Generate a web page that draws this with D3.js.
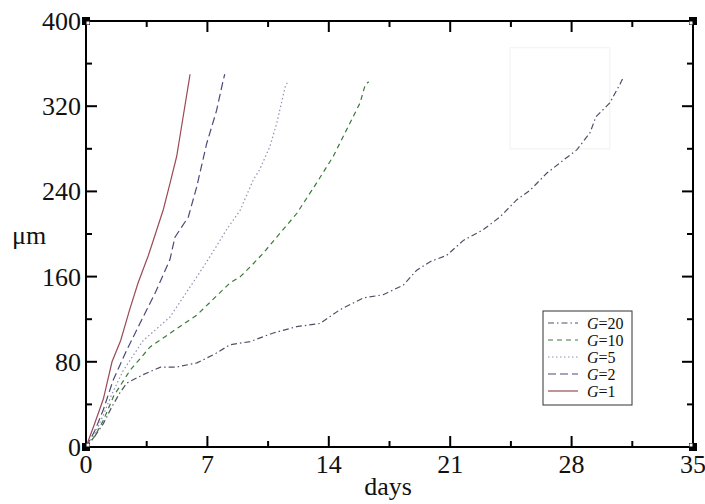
<!DOCTYPE html>
<html>
<head>
<meta charset="utf-8">
<script src="https://cdn.jsdelivr.net/npm/d3@7"></script>
<style>
  body { margin: 0; background: #fff; }
  svg { display: block; font-family: "Liberation Serif", "Times New Roman", serif; }
</style>
</head>
<body>
<svg width="705" height="504"></svg>
<script>
const width = 705;
const height = 504;
const margin = { top: 21, right: 12, bottom: 57, left: 86 };
const innerWidth = width - margin.left - margin.right;
const innerHeight = height - margin.top - margin.bottom;

// tick values
const xTicks = [0, 7, 14, 21, 28, 35];
const xMinor = [3.5, 10.5, 17.5, 24.5, 31.5];
const yTicks = [0, 80, 160, 240, 320, 400];
const yMinor = [40, 120, 200, 280, 360];

// series (days, µm)
const g1Days = [0, 0.5, 1, 1.5, 2, 2.5, 3, 3.6, 4.0, 4.46, 4.85, 5.23, 5.5, 5.9, 6.0];
const g1Vals = [0, 22, 45, 80, 100, 128, 154, 180, 200, 223, 248, 273, 300, 340, 350];

const g2Days = [0, 0.5, 1, 1.57, 2.35, 3.2, 4.0, 4.84, 5.13, 5.9, 6.38, 6.96, 7.53, 7.92, 8.0];
const g2Vals = [0, 15, 35, 63, 91, 119, 145, 176, 197, 216, 244, 285, 316, 345, 350];

const g5Days = [0, 0.5, 1, 1.5, 2.15, 3.3, 4.84, 6.4, 7.2, 8.1, 8.88, 9.65, 10.0, 10.6, 11.0, 11.48, 11.6];
const g5Vals = [0, 12, 30, 50, 72, 100, 122, 160, 180, 204, 222, 251, 260, 282, 304, 338, 342];

const g10Days = [0, 0.5, 1, 1.6, 2.54, 3.7, 5.4, 6.4, 8.3, 8.9, 9.46, 10.22, 11.2, 12.14, 13.3, 14.26, 15.03, 15.8, 16.1, 16.3];
const g10Vals = [0, 10, 25, 48, 72, 94, 113, 124, 154, 160, 169, 182, 201, 219, 248, 273, 298, 323, 340, 343];

const g20Days = [0, 0.5, 1, 1.5, 1.96, 2.35, 3.3, 4.3, 5.2, 6.4, 7.5, 8.3, 9.46, 10.8, 12.14, 13.5, 14.65, 16.0, 17.14, 18.3,
    19.07, 19.84, 20.8, 21.76, 22.9, 23.87, 24.83, 25.6, 26.56, 27.5, 28.3, 29.06, 29.4, 30.2, 30.8, 30.95];
const g20Vals = [0, 10, 22, 38, 51, 60, 68, 75, 75, 79, 88, 96, 99, 107, 113, 116, 129, 140, 143, 152,
    166, 174, 180, 194, 204, 216, 232, 241, 257, 269, 279, 295, 310, 323, 341, 346];

// legend order, top to bottom
const series = [
    { name: "20", days: g20Days, vals: g20Vals, color: "#505064", dash: "6,3,1.5,3" },
    { name: "10", days: g10Days, vals: g10Vals, color: "#3a7a3a", dash: "5,4" },
    { name: "5", days: g5Days, vals: g5Vals, color: "#9090b4", dash: "1.5,2.5" },
    { name: "2", days: g2Days, vals: g2Vals, color: "#4a4a7a", dash: "8,4" },
    { name: "1", days: g1Days, vals: g1Vals, color: "#9a4a55", dash: null },
];

const svg = d3.select("svg");
const g = svg.append("g").attr("transform", `translate(${margin.left}, ${margin.top})`);

const x = d3.scaleLinear().domain([0, 35]).range([0, innerWidth]);
const y = d3.scaleLinear().domain([0, 400]).range([innerHeight, 0]);

// faint leftover box in the upper right
g.append("rect")
    .attr("x", x(24.45)).attr("y", y(375))
    .attr("width", x(30.2) - x(24.45)).attr("height", y(280) - y(375))
    .attr("fill", "none").attr("stroke", "#f5f5f5").attr("stroke-width", 1.5);

// lines
const line = d3.line().x((d) => x(d[0])).y((d) => y(d[1]));
series.forEach((s) => {
    g.append("path")
        .datum(s.days.map((d, i) => [d, s.vals[i]]))
        .attr("d", line)
        .attr("fill", "none")
        .attr("stroke", s.color)
        .attr("stroke-width", 1.2)
        .attr("stroke-dasharray", s.dash);
});

// frame
g.append("rect")
    .attr("width", innerWidth).attr("height", innerHeight)
    .attr("fill", "none").attr("stroke", "#000").attr("stroke-width", 2);

// ticks on all four sides, pointing inward
const major = 11, minor = 6;
const tickG = g.append("g").attr("stroke", "#000").attr("stroke-width", 2);
[[xTicks, major], [xMinor, minor]].forEach(([vals, len]) => {
    vals.forEach((v) => {
        tickG.append("line").attr("x1", x(v)).attr("x2", x(v)).attr("y1", innerHeight).attr("y2", innerHeight - len);
        tickG.append("line").attr("x1", x(v)).attr("x2", x(v)).attr("y1", 0).attr("y2", len);
    });
});
[[yTicks, major], [yMinor, minor]].forEach(([vals, len]) => {
    vals.forEach((v) => {
        tickG.append("line").attr("x1", 0).attr("x2", len).attr("y1", y(v)).attr("y2", y(v));
        tickG.append("line").attr("x1", innerWidth).attr("x2", innerWidth - len).attr("y1", y(v)).attr("y2", y(v));
    });
});

// corner squares
[[0, 0, 1, 1], [innerWidth, 0, -1, 1], [0, innerHeight, 1, -1], [innerWidth, innerHeight, -1, -1]].forEach(([cx, cy, dx, dy]) => {
    g.append("rect").attr("x", cx - 4).attr("y", cy - 4).attr("width", 8).attr("height", 8).attr("fill", "#000");
    g.append("rect").attr("x", cx + (dx > 0 ? 0.5 : -3.5)).attr("y", cy + (dy > 0 ? 0.5 : -3.5))
        .attr("width", 3).attr("height", 3).attr("fill", "#fff");
});

// tick labels
g.selectAll(".xl").data(xTicks).join("text")
    .attr("x", (d) => x(d)).attr("y", innerHeight + 26)
    .attr("text-anchor", "middle").attr("font-size", 26).attr("fill", "#111")
    .text((d) => d);
g.selectAll(".yl").data(yTicks).join("text")
    .attr("x", -5).attr("y", (d) => y(d) + 9)
    .attr("text-anchor", "end").attr("font-size", 26).attr("fill", "#111")
    .text((d) => d);

// axis titles
svg.append("text").attr("x", 388).attr("y", 495).attr("text-anchor", "middle")
    .attr("font-size", 26).attr("fill", "#111").text("days");
svg.append("text").attr("x", 12).attr("y", 244)
    .attr("font-size", 26).attr("fill", "#111").text("μm");

// legend
const lg = svg.append("g");
lg.append("rect").attr("x", 543).attr("y", 311).attr("width", 89).attr("height", 94)
    .attr("fill", "#fff").attr("stroke", "#333").attr("stroke-width", 1);
series.forEach((s, i) => {
    const ly = 323 + i * 17;
    lg.append("line").attr("x1", 548).attr("x2", 578).attr("y1", ly).attr("y2", ly)
        .attr("stroke", s.color).attr("stroke-width", 1.2).attr("stroke-dasharray", s.dash);
    const t = lg.append("text").attr("x", 587).attr("y", ly + 5.5).attr("font-size", 16).attr("fill", "#111");
    t.append("tspan").attr("font-style", "italic").text("G");
    t.append("tspan").text("=" + s.name);
});
</script>
</body>
</html>
